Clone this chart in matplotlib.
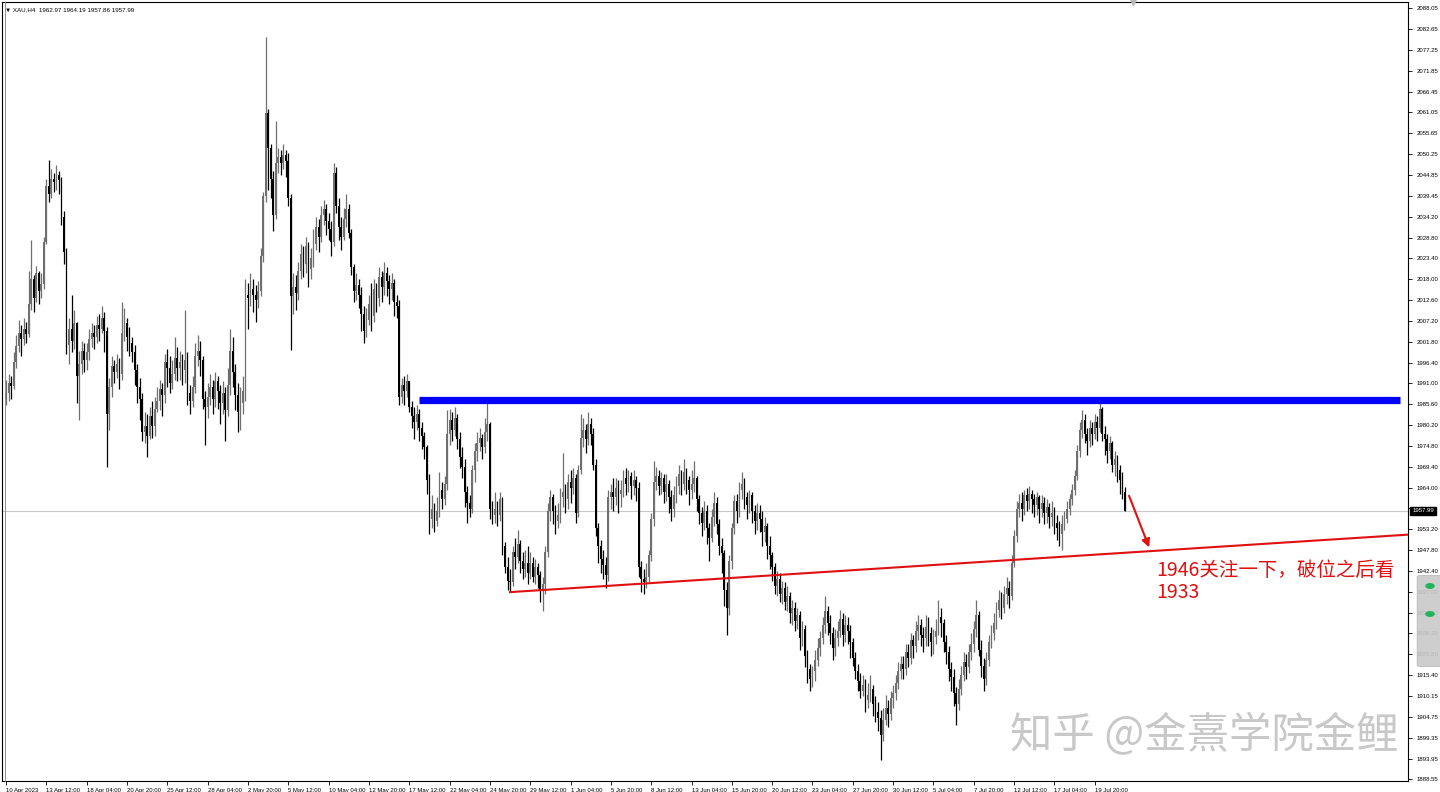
import numpy as np
import matplotlib
matplotlib.use("Agg")
import matplotlib.pyplot as plt
from matplotlib.patches import FancyBboxPatch, Circle
from matplotlib.lines import Line2D

# XAU H4 closes / highs / lows (16 bars per row)
closes = [
    1988.5, 1991.0, 1990.2, 1996.5, 2000.8, 2004.0, 2002.5, 2005.2, 2003.8, 2011.5, 2018.0, 2013.0, 2019.5, 2015.0, 2016.8, 2027.5,
    2042.0, 2040.0, 2044.0, 2043.0, 2045.0, 2043.5, 2034.0, 2025.0, 2001.0, 2005.0, 2002.0, 2006.5, 1993.0, 1996.0, 1999.5, 1997.0,
    1999.0, 2002.5, 2004.0, 2003.0, 2006.0, 2005.0, 2008.0, 2004.5, 1983.0, 1990.0, 1995.5, 1994.0, 1996.0, 1993.5, 2004.0, 2006.5,
    2003.0, 2001.5, 1999.0, 1994.5, 1990.0, 1987.0, 1978.5, 1980.0, 1977.5, 1982.5, 1980.0, 1984.5, 1986.5, 1989.5, 1988.0, 1996.5,
    1995.0, 1991.0, 1993.5, 1997.5, 1995.0, 1996.5, 1994.5, 1997.0, 1988.5, 1986.5, 1990.0, 1998.0, 1999.5, 1997.0, 1987.0, 1985.0,
    1987.5, 1990.0, 1987.0, 1991.5, 1989.0, 1986.0, 1988.5, 1984.0, 1990.5, 1999.5, 1994.0, 1988.0, 1983.5, 1986.0, 1989.0, 2014.0,
    2013.0, 2015.5, 2014.0, 2012.5, 2015.0, 2024.0, 2039.5, 2061.0, 2052.0, 2044.0, 2034.5, 2048.0, 2049.5, 2048.0, 2050.0, 2048.5,
    2039.0, 2013.5, 2016.0, 2014.5, 2020.0, 2024.5, 2022.0, 2026.5, 2020.5, 2023.5, 2027.0, 2031.5, 2029.0, 2034.5, 2036.0, 2033.0,
    2031.0, 2027.5, 2045.5, 2037.0, 2031.5, 2029.0, 2033.5, 2036.0, 2030.0, 2021.0, 2015.0, 2016.5, 2014.0, 2009.0, 2004.5, 2007.5,
    2011.5, 2008.5, 2015.5, 2013.0, 2018.5, 2016.0, 2019.5, 2017.5, 2015.5, 2017.0, 2012.0, 2011.0, 1987.5, 1990.5, 1989.0, 1991.5,
    1985.0, 1982.5, 1981.0, 1983.0, 1979.5, 1977.5, 1974.5, 1966.0, 1956.0, 1958.5, 1955.5, 1958.0, 1963.5, 1961.0, 1965.0, 1978.0,
    1981.5, 1979.0, 1982.0, 1976.5, 1972.0, 1969.5, 1963.0, 1960.0, 1958.5, 1968.5, 1973.5, 1975.5, 1977.0, 1974.5, 1978.5, 1980.5,
    1958.5, 1957.0, 1958.5, 1957.0, 1961.0, 1949.0, 1943.5, 1940.0, 1939.5, 1947.5, 1946.0, 1949.5, 1945.0, 1943.0, 1944.5, 1942.0,
    1944.5, 1941.0, 1943.5, 1941.5, 1937.5, 1939.0, 1947.5, 1958.0, 1961.5, 1958.0, 1955.5, 1957.0, 1961.5, 1963.0, 1961.0, 1965.5,
    1964.0, 1966.5, 1957.5, 1968.5, 1977.0, 1979.0, 1976.5, 1980.5, 1978.0, 1970.0, 1953.5, 1949.0, 1945.5, 1944.0, 1941.5, 1961.5,
    1963.0, 1961.5, 1964.0, 1962.5, 1963.5, 1966.5, 1965.0, 1967.0, 1964.5, 1966.0, 1964.0, 1943.5, 1940.5, 1939.5, 1941.0, 1946.5,
    1956.0, 1965.5, 1967.0, 1964.5, 1966.5, 1963.0, 1965.0, 1961.5, 1958.5, 1962.0, 1964.5, 1967.5, 1965.0, 1968.0, 1966.0, 1963.5,
    1965.0, 1966.5, 1961.0, 1957.5, 1955.0, 1958.0, 1953.5, 1951.0, 1956.5, 1960.0, 1954.5, 1949.0, 1947.0, 1937.5, 1933.0, 1945.0,
    1953.5, 1960.5, 1958.0, 1963.5, 1965.0, 1961.5, 1959.5, 1962.0, 1958.0, 1955.5, 1957.5, 1956.0, 1952.5, 1954.0, 1949.0, 1946.5,
    1943.5, 1938.5, 1940.5, 1936.5, 1938.0, 1934.5, 1936.0, 1931.5, 1933.0, 1929.5, 1931.0, 1925.0, 1927.5, 1920.5, 1917.0, 1914.5,
    1916.5, 1919.5, 1922.5, 1925.0, 1928.5, 1932.0, 1929.0, 1926.5, 1922.5, 1925.0, 1927.0, 1930.0, 1926.0, 1928.5, 1927.0, 1924.0,
    1920.0, 1916.5, 1914.0, 1911.5, 1913.0, 1909.0, 1910.5, 1912.0, 1908.0, 1906.0, 1904.5, 1900.0, 1904.0, 1907.0, 1905.5, 1909.5,
    1911.0, 1913.5, 1916.5, 1918.5, 1917.0, 1921.5, 1920.0, 1924.5, 1923.0, 1927.0, 1928.5, 1926.0, 1925.0, 1928.0, 1926.5, 1924.0,
    1925.5, 1927.0, 1930.5, 1929.0, 1924.0, 1921.5, 1917.0, 1915.0, 1911.0, 1908.0, 1912.0, 1915.5, 1919.0, 1917.5, 1921.5, 1923.5,
    1927.5, 1931.0, 1922.0, 1918.0, 1914.5, 1919.5, 1924.0, 1926.5, 1929.0, 1932.5, 1935.0, 1933.0, 1936.5, 1938.0, 1936.0, 1944.5,
    1951.5, 1958.5, 1960.0, 1958.5, 1962.0, 1960.5, 1962.5, 1961.0, 1959.5, 1961.5, 1958.5, 1960.0, 1957.5, 1959.0, 1956.5, 1957.5,
    1955.0, 1953.5, 1952.0, 1954.5, 1956.0, 1958.5, 1961.0, 1963.5, 1967.0, 1973.5, 1979.0, 1981.5, 1978.0, 1976.0, 1979.5, 1978.0,
    1981.0, 1979.5, 1984.5, 1978.0, 1976.5, 1973.5, 1975.5, 1970.0, 1971.5, 1968.5, 1966.0, 1962.97, 1957.99,
]

highs = [
    1992.0, 1993.5, 1993.0, 1999.0, 2003.5, 2007.5, 2006.0, 2008.0, 2007.0, 2020.0, 2028.0, 2019.0, 2021.5, 2020.0, 2019.5, 2029.0,
    2044.0, 2048.7, 2046.5, 2045.5, 2047.5, 2046.0, 2044.5, 2035.5, 2026.0, 2008.0, 2014.0, 2010.0, 2007.0, 1999.5, 2002.0, 2001.5,
    2001.5, 2005.0, 2006.5, 2006.0, 2008.5, 2009.0, 2011.0, 2009.5, 2005.5, 1992.5, 1998.0, 1997.0, 1998.5, 1997.5, 2012.0, 2010.5,
    2008.0, 2005.5, 2003.0, 2001.0, 1996.0, 1992.5, 1988.5, 1983.5, 1983.0, 1985.0, 1986.5, 1987.5, 1990.0, 1992.0, 1991.0, 1998.5,
    2000.0, 1998.0, 1997.0, 2003.0, 2000.5, 1999.5, 1998.5, 2010.0, 1999.0, 1990.5, 1993.0, 2001.5, 2003.5, 2002.0, 1998.0, 1989.0,
    1991.0, 1993.5, 1992.0, 1994.0, 1993.0, 1990.5, 1991.5, 1990.0, 1995.0, 2005.0, 2003.0, 1996.0, 1991.0, 1990.0, 1993.0, 2018.0,
    2017.0, 2019.5, 2018.0, 2016.5, 2017.5, 2026.0, 2040.5, 2080.5, 2062.0, 2053.0, 2046.0, 2059.0, 2052.0, 2051.5, 2053.0, 2051.5,
    2050.5, 2040.0, 2019.5, 2019.0, 2022.5, 2027.0, 2026.5, 2029.0, 2027.5, 2026.0, 2031.0, 2034.0, 2033.5, 2037.0, 2038.5, 2037.5,
    2035.0, 2033.0, 2048.0, 2047.0, 2039.0, 2034.0, 2036.5, 2040.0, 2037.5, 2031.0, 2022.0, 2019.5, 2018.0, 2016.0, 2011.0, 2010.5,
    2014.0, 2017.0, 2018.0, 2017.0, 2021.0, 2020.0, 2022.5, 2021.0, 2019.0, 2019.5, 2018.0, 2014.0, 2012.5, 1992.5, 1993.0, 1993.5,
    1991.0, 1986.5, 1985.0, 1985.5, 1984.5, 1981.0, 1978.5, 1975.0, 1967.5, 1962.0, 1960.0, 1961.5, 1968.0, 1965.5, 1967.0, 1984.0,
    1984.5, 1983.5, 1985.0, 1983.0, 1978.5, 1974.5, 1971.5, 1964.5, 1962.0, 1970.0, 1975.5, 1978.5, 1979.5, 1978.0, 1982.0, 1986.0,
    1981.0, 1960.5, 1963.0, 1960.5, 1963.0, 1961.5, 1950.0, 1946.0, 1943.0, 1949.0, 1951.0, 1953.0, 1950.5, 1947.5, 1948.0, 1949.0,
    1947.5, 1946.0, 1945.5, 1944.5, 1942.5, 1941.0, 1949.0, 1960.0, 1963.5, 1962.5, 1959.5, 1960.0, 1964.0, 1973.0, 1965.0, 1967.5,
    1968.5, 1969.0, 1967.5, 1970.0, 1983.0, 1982.0, 1980.5, 1983.5, 1982.0, 1979.5, 1971.5, 1955.0, 1950.5, 1948.0, 1946.0, 1963.5,
    1965.0, 1966.5, 1966.5, 1966.0, 1966.0, 1968.5, 1969.0, 1968.5, 1968.0, 1968.5, 1967.0, 1965.5, 1945.0, 1943.0, 1944.5, 1948.0,
    1957.5, 1971.0, 1969.5, 1968.5, 1968.0, 1967.5, 1967.5, 1966.0, 1963.5, 1964.5, 1967.0, 1970.0, 1968.5, 1971.5, 1969.0, 1967.0,
    1968.5, 1971.0, 1967.0, 1962.0, 1959.0, 1960.5, 1959.5, 1955.0, 1958.5, 1963.0, 1961.5, 1956.0, 1951.0, 1948.0, 1939.5, 1946.5,
    1955.0, 1962.0, 1962.5, 1965.5, 1968.0, 1966.5, 1963.0, 1963.5, 1963.0, 1959.5, 1960.0, 1959.5, 1958.0, 1956.5, 1955.0, 1951.5,
    1947.5, 1944.5, 1942.5, 1942.0, 1940.0, 1939.5, 1938.5, 1937.0, 1935.0, 1934.5, 1933.0, 1932.0, 1929.5, 1928.5, 1922.0, 1918.5,
    1918.0, 1922.0, 1925.0, 1927.0, 1930.5, 1936.0, 1933.5, 1931.0, 1928.0, 1927.5, 1929.5, 1932.5, 1931.5, 1931.0, 1930.5, 1928.5,
    1925.0, 1921.5, 1918.5, 1916.0, 1915.5, 1914.5, 1913.5, 1915.5, 1913.0, 1910.0, 1908.5, 1906.5, 1907.0, 1910.5, 1909.0, 1911.5,
    1913.0, 1915.5, 1919.0, 1920.5, 1920.5, 1923.5, 1923.5, 1926.5, 1926.0, 1929.5, 1931.0, 1930.0, 1928.0, 1931.0, 1930.5, 1928.0,
    1927.5, 1930.0, 1935.0, 1933.0, 1930.0, 1926.0, 1923.0, 1919.0, 1917.0, 1912.5, 1914.5, 1918.0, 1921.5, 1921.0, 1923.5, 1926.5,
    1929.5, 1935.0, 1932.0, 1924.5, 1920.0, 1921.5, 1926.0, 1928.5, 1931.5, 1934.5, 1937.5, 1937.0, 1938.5, 1941.0, 1940.0, 1946.5,
    1953.0, 1960.5, 1962.5, 1963.0, 1963.5, 1964.0, 1964.5, 1963.5, 1962.5, 1963.0, 1962.0, 1962.0, 1961.5, 1961.0, 1960.0, 1960.5,
    1959.0, 1957.0, 1955.5, 1957.0, 1958.0, 1960.5, 1962.5, 1965.0, 1968.5, 1975.0, 1981.0, 1984.0, 1983.0, 1979.5, 1981.5, 1981.0,
    1983.0, 1982.5, 1986.5, 1985.0, 1980.0, 1978.0, 1977.5, 1976.0, 1973.5, 1972.5, 1970.0, 1968.0, 1964.19,
]

lows = [
    1985.5, 1986.5, 1987.0, 1989.5, 1995.0, 1999.0, 1998.0, 2001.0, 2001.5, 2003.0, 2010.0, 2009.5, 2012.0, 2011.5, 2013.0, 2015.5,
    2027.0, 2038.0, 2039.0, 2040.5, 2041.0, 2040.0, 2032.0, 2022.0, 1998.5, 1996.0, 1999.0, 2000.0, 1986.0, 1981.5, 1993.5, 1994.0,
    1994.5, 1997.0, 2000.5, 2000.0, 2001.5, 2002.0, 2004.0, 1999.0, 1969.5, 1979.0, 1987.5, 1991.0, 1992.5, 1989.5, 1992.0, 2002.0,
    1999.5, 1998.0, 1996.5, 1990.5, 1986.0, 1981.5, 1976.0, 1975.5, 1972.0, 1976.5, 1977.0, 1977.5, 1983.5, 1984.0, 1982.5, 1986.0,
    1990.0, 1988.5, 1989.5, 1992.0, 1991.5, 1992.0, 1990.5, 1991.0, 1985.5, 1983.0, 1985.0, 1988.5, 1995.5, 1993.0, 1984.5, 1975.0,
    1982.0, 1985.5, 1983.0, 1985.0, 1984.5, 1980.5, 1983.0, 1976.0, 1982.5, 1988.0, 1990.0, 1984.0, 1978.5, 1979.0, 1983.0, 1986.5,
    2005.0, 2011.0, 2009.5, 2007.0, 2010.5, 2013.5, 2022.5, 2038.0, 2041.0, 2039.0, 2030.5, 2033.5, 2045.5, 2045.0, 2046.5, 2044.5,
    2037.0, 1999.7, 2009.0, 2010.0, 2012.5, 2018.0, 2018.5, 2019.5, 2016.0, 2018.0, 2021.0, 2025.5, 2025.0, 2027.5, 2032.0, 2029.5,
    2028.0, 2024.0, 2026.5, 2035.0, 2028.0, 2025.5, 2028.0, 2031.5, 2028.5, 2019.0, 2012.0, 2012.5, 2010.5, 2004.5, 2001.5, 2003.0,
    2006.0, 2004.5, 2007.0, 2009.5, 2011.0, 2012.0, 2014.0, 2013.5, 2011.5, 2012.5, 2008.5, 2008.0, 1985.5, 1986.0, 1985.5, 1987.5,
    1983.5, 1979.5, 1976.5, 1979.0, 1976.0, 1974.0, 1971.5, 1962.5, 1952.0, 1953.5, 1952.5, 1954.0, 1956.5, 1958.5, 1959.5, 1963.5,
    1975.0, 1976.0, 1977.5, 1974.0, 1969.0, 1966.5, 1959.0, 1955.0, 1956.5, 1957.5, 1965.5, 1971.0, 1973.5, 1971.5, 1973.0, 1976.0,
    1956.0, 1954.5, 1955.0, 1954.0, 1955.5, 1946.5, 1942.0, 1937.5, 1937.0, 1938.5, 1943.0, 1944.5, 1942.0, 1940.5, 1941.0, 1939.0,
    1940.5, 1939.5, 1939.0, 1938.0, 1934.5, 1932.0, 1936.5, 1946.0, 1955.5, 1954.5, 1952.0, 1953.5, 1955.0, 1959.0, 1957.5, 1958.5,
    1960.0, 1962.5, 1955.0, 1956.5, 1967.5, 1974.5, 1973.0, 1975.0, 1975.0, 1968.5, 1951.5, 1944.5, 1942.0, 1940.5, 1938.0, 1940.0,
    1958.5, 1958.0, 1959.5, 1957.5, 1959.0, 1961.5, 1962.0, 1963.0, 1961.0, 1962.0, 1960.5, 1941.0, 1937.0, 1936.5, 1938.0, 1939.5,
    1945.0, 1954.0, 1963.5, 1962.0, 1962.5, 1960.0, 1960.5, 1957.5, 1955.5, 1956.5, 1960.0, 1962.5, 1962.0, 1963.5, 1962.5, 1959.5,
    1961.0, 1963.0, 1958.0, 1954.5, 1951.5, 1953.0, 1949.5, 1945.0, 1950.0, 1954.0, 1952.0, 1946.5, 1942.0, 1933.5, 1925.8, 1931.0,
    1943.0, 1952.0, 1955.0, 1956.5, 1961.0, 1958.5, 1956.0, 1957.5, 1955.0, 1952.0, 1953.0, 1952.5, 1949.0, 1950.0, 1945.5, 1943.0,
    1940.0, 1936.5, 1936.0, 1934.5, 1934.0, 1932.5, 1932.0, 1929.0, 1928.5, 1927.0, 1927.5, 1922.0, 1923.0, 1917.5, 1913.5, 1911.5,
    1912.5, 1914.0, 1918.0, 1920.5, 1923.5, 1926.5, 1926.0, 1923.5, 1919.5, 1920.5, 1923.0, 1925.5, 1923.0, 1924.0, 1923.5, 1920.0,
    1918.0, 1914.5, 1911.5, 1909.5, 1910.0, 1906.0, 1907.0, 1908.5, 1905.0, 1903.5, 1901.0, 1893.5, 1898.5, 1902.5, 1902.0, 1904.0,
    1907.0, 1909.0, 1912.0, 1914.5, 1914.5, 1915.5, 1917.5, 1918.5, 1920.0, 1921.5, 1924.5, 1923.0, 1921.5, 1923.0, 1923.0, 1920.5,
    1921.0, 1923.5, 1926.0, 1925.5, 1921.5, 1918.5, 1914.0, 1911.5, 1907.5, 1902.6, 1906.5, 1910.5, 1914.0, 1914.5, 1916.0, 1919.5,
    1921.5, 1925.5, 1920.5, 1915.0, 1911.5, 1913.0, 1918.0, 1922.5, 1924.5, 1927.5, 1930.5, 1930.0, 1931.5, 1934.0, 1933.0, 1935.0,
    1943.5, 1950.0, 1956.5, 1955.5, 1957.0, 1958.0, 1958.5, 1957.5, 1956.5, 1957.0, 1955.0, 1956.5, 1954.5, 1955.0, 1953.5, 1954.0,
    1952.0, 1950.5, 1949.0, 1948.0, 1953.0, 1955.0, 1957.0, 1959.5, 1962.0, 1966.0, 1972.0, 1977.0, 1975.5, 1972.5, 1974.5, 1975.0,
    1976.5, 1976.0, 1978.5, 1976.0, 1972.5, 1970.5, 1971.5, 1968.0, 1967.0, 1965.5, 1962.5, 1961.0, 1957.86,
]

first_open = 1987.0

time_labels = [
    "10 Apr 2023", "13 Apr 12:00", "18 Apr 04:00", "20 Apr 20:00", "25 Apr 12:00", "28 Apr 04:00",
    "2 May 20:00", "5 May 12:00", "10 May 04:00", "12 May 20:00", "17 May 12:00", "22 May 04:00",
    "24 May 20:00", "29 May 12:00", "1 Jun 04:00", "5 Jun 20:00", "8 Jun 12:00", "13 Jun 04:00",
    "15 Jun 20:00", "20 Jun 12:00", "23 Jun 04:00", "27 Jun 20:00", "30 Jun 12:00", "5 Jul 04:00",
    "7 Jul 20:00", "12 Jul 12:00", "17 Jul 04:00", "19 Jul 20:00",
]
bars_per_label = 16

price_labels = [
    "2088.05", "2082.65", "2077.25", "2071.85", "2066.45", "2061.05", "2055.65", "2050.25",
    "2044.85", "2039.45", "2034.20", "2028.80", "2023.40", "2018.00", "2012.60", "2007.20",
    "2001.80", "1996.40", "1991.00", "1985.60", "1980.20", "1974.80", "1969.40", "1964.00",
    "", "1953.20", "1947.80", "1942.40", "1937.00", "1931.60", "1926.20", "1920.80",
    "1915.40", "1910.15", "1904.75", "1899.35", "1893.95", "1888.55",
]

last_price = 1957.99
resistance = 1986.8
resistance_span = (164, 553)
trend_start = (200, 1937.0)
trend_end = (557, 1951.9)
arrow_from = (445.2, 1962.6)
arrow_to = (454.0, 1947.9)

note_text = "1946关注一下，破位之后看\n1933"
watermark = "知乎 @金熹学院金鲤"

# ---- build candles ----
c = np.array(closes)
o = np.array([first_open] + closes[:-1])
h = np.maximum(np.array(highs), np.maximum(o, c))
l = np.minimum(np.array(lows), np.minimum(o, c))
x = np.arange(len(c))
up = c >= o

bull_col = "#6f6f6f"
bear_col = "#000000"
red = "#e01010"
tick_font = "Liberation Sans"

fig = plt.figure(figsize=(14.4, 7.92), dpi=100)
ax = fig.add_axes([2 / 1440, 11 / 792, 1406 / 1440, 779 / 792])

ax.axhline(last_price, color="#c8c8c8", lw=0.8, zorder=1)

ax.vlines(x[up], l[up], h[up], color=bull_col, lw=0.9, zorder=2)
ax.vlines(x[~up], l[~up], h[~up], color=bear_col, lw=0.9, zorder=2)
body = np.maximum(np.abs(c - o), 0.2)
ax.bar(x[up], body[up], bottom=o[up], width=0.7, color=bull_col, lw=0, zorder=3)
ax.bar(x[~up], body[~up], bottom=c[~up], width=0.7, color=bear_col, lw=0, zorder=3)

# drawn levels
ax.plot(resistance_span, [resistance, resistance], color="#0000ff", lw=5.2,
        solid_capstyle="butt", zorder=4)
ax.plot([trend_start[0], trend_end[0]], [trend_start[1], trend_end[1]],
        color=red, lw=1.5, zorder=4)
ax.annotate("", xy=arrow_to, xytext=arrow_from,
            arrowprops=dict(arrowstyle="-|>", color=red, lw=1.5, mutation_scale=12),
            zorder=5)
ax.text(456.5, 1945.3, note_text, color=red, fontsize=14, va="top", ha="left",
        family=["Noto Sans CJK SC", "DejaVu Sans"], linespacing=1.05, zorder=5)

ax.set_xlim(-1.59, 556.3)
ax.set_ylim(1888.13, 2089.68)

# axes / ticks like the terminal
ax.yaxis.tick_right()
ax.set_yticks(np.linspace(2088.05, 1888.55, len(price_labels)))
ax.set_yticklabels(price_labels, family=tick_font)
ax.set_xticks(np.arange(len(time_labels)) * bars_per_label)
ax.set_xticklabels(time_labels, family=tick_font)
for lab in ax.get_xticklabels():
    lab.set_horizontalalignment("left")
ax.tick_params(axis="both", labelsize=4.3, length=3, width=0.6, colors="#000000", pad=2)
ax.tick_params(axis="y", pad=3)
for s in ax.spines.values():
    s.set_linewidth(0.8)
    s.set_color("#000000")

ax.text(1.003, last_price, "1957.99", transform=ax.get_yaxis_transform(), color="white",
        fontsize=4.3, family=tick_font, va="center", ha="left",
        bbox=dict(boxstyle="square,pad=0.3", fc="black", ec="black"), zorder=6)

ax.text(0.002, 0.993, "▼ XAU,H4  1962.97 1964.19 1957.86 1957.99", transform=ax.transAxes,
        fontsize=4.5, va="top", ha="left", color="#000000",
        family=[tick_font, "DejaVu Sans"])
ax.plot([447], [2089.68], marker="v", color="#b8b8b8", ms=5, clip_on=False, zorder=6)

# left window border
fig.add_artist(Line2D([4.5 / 1440, 4.5 / 1440], [11 / 792, 790 / 792], color="#808080", lw=0.6))

# watermark
fig.text(1010 / 1440, 1 - 736 / 792, watermark, fontsize=30.5, color="#c8c8c8",
         va="center", ha="left", family=["Noto Sans CJK SC", "DejaVu Sans"])

# floating widget at the right edge
fig.add_artist(FancyBboxPatch((1420 / 1440, 1 - 665 / 792), 22 / 1440, 88 / 792,
                              boxstyle="round,pad=0.002", fc="#c9c9c9", ec="#b0b0b0",
                              lw=0.5, alpha=0.9, transform=fig.transFigure))
for yy in (586, 614):
    fig.add_artist(Circle((1430 / 1440, 1 - yy / 792), 0.0028, color="#22b35a",
                          transform=fig.transFigure))

fig.savefig("out.png", dpi=100, facecolor="white")
